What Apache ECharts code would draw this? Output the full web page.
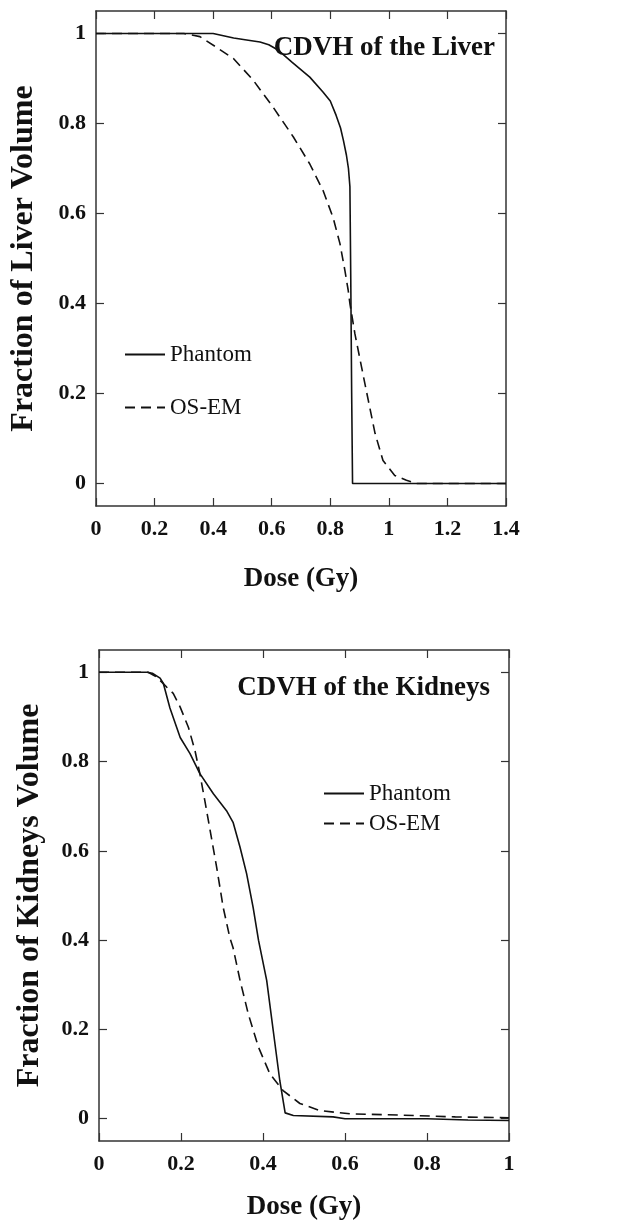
<!DOCTYPE html>
<html>
	<head>
		<meta charset="UTF-8">
		<title>CDVH</title>
		<script src="https://cdn.jsdelivr.net/npm/echarts@6/dist/echarts.min.js"></script>
	</head>
	<style>
		html, body { margin: 0; padding: 0; background: #fff; }
		#chart { width: 633px; height: 1226px; }
	</style>
	<body>
		<div id="chart"></div>
	<script>
	// liver panel, dose in Gy, fraction of volume
	var liverPhantomX = [0, 0.2, 0.4, 0.47, 0.52, 0.56, 0.59, 0.62, 0.67, 0.73, 0.775, 0.8, 0.82, 0.835, 0.845, 0.855, 0.862, 0.867, 0.87, 0.873, 0.876, 1.0, 1.2, 1.4];
	var liverPhantomY = [1, 1, 1, 0.99, 0.985, 0.981, 0.975, 0.964, 0.936, 0.903, 0.87, 0.85, 0.818, 0.79, 0.762, 0.73, 0.70, 0.66, 0.45, 0.2, 0, 0, 0, 0];
	var liverOsemX = [0, 0.2, 0.3, 0.355, 0.41, 0.47, 0.537, 0.605, 0.674, 0.73, 0.776, 0.81, 0.833, 0.85, 0.861, 0.867, 0.884, 0.907, 0.93, 0.953, 0.98, 1.02, 1.06, 1.095, 1.2, 1.4];
	var liverOsemY = [1, 1, 1, 0.993, 0.97, 0.944, 0.896, 0.836, 0.77, 0.71, 0.65, 0.59, 0.533, 0.473, 0.43, 0.4, 0.333, 0.258, 0.184, 0.111, 0.051, 0.018, 0.007, 0, 0, 0];

	// kidneys panel
	var kidPhantomX = [0, 0.1, 0.117, 0.13, 0.149, 0.157, 0.173, 0.198, 0.222, 0.246, 0.279, 0.311, 0.327, 0.344, 0.36, 0.376, 0.389, 0.409, 0.425, 0.441, 0.454, 0.474, 0.571, 0.6, 0.8, 0.9, 1.0];
	var kidPhantomY = [1, 1, 1, 0.998, 0.987, 0.975, 0.92, 0.854, 0.818, 0.773, 0.728, 0.69, 0.664, 0.608, 0.549, 0.473, 0.4, 0.31, 0.197, 0.085, 0.013, 0.007, 0.004, 0, 0, -0.003, -0.004];
	var kidOsemX = [0, 0.1, 0.12, 0.14, 0.165, 0.181, 0.198, 0.218, 0.234, 0.246, 0.258, 0.271, 0.287, 0.303, 0.319, 0.327, 0.344, 0.364, 0.389, 0.417, 0.449, 0.49, 0.539, 0.612, 0.734, 0.869, 1.0];
	var kidOsemY = [1, 1, 1, 0.99, 0.967, 0.953, 0.922, 0.877, 0.825, 0.773, 0.713, 0.646, 0.563, 0.473, 0.406, 0.383, 0.31, 0.235, 0.16, 0.1, 0.063, 0.034, 0.018, 0.011, 0.008, 0.004, 0.002];

	var yTicks = [0, 0.2, 0.4, 0.6, 0.8, 1];
	var seriesNames = ['Phantom', 'OS-EM'];
	var titles = ['CDVH of the Liver', 'CDVH of the Kidneys'];
	var xName = 'Dose (Gy)';
	var yNames = ['Fraction of Liver Volume', 'Fraction of Kidneys Volume'];

	var font = 'Liberation Serif';
	var ink = '#111';
	var frame = '#333';

	function pairs(xs, ys) {
		var out = [];
		for (var i = 0; i < xs.length; i++) {
			out.push([xs[i], ys[i]]);
		}
		return out;
	}

	function xAx(grid, xmax, pos, nameGap) {
		var main = pos === 'bottom';
		return {
			type: 'value', gridIndex: grid, position: pos,
			min: 0, max: xmax, interval: 0.2,
			name: main ? xName : '', nameLocation: 'middle', nameGap: nameGap,
			nameTextStyle: { fontFamily: font, fontWeight: 'bold', fontSize: 27, color: ink },
			axisLine: { show: true, onZero: false, lineStyle: { color: frame, width: 1.5 } },
			axisTick: { show: true, inside: true, length: 8, lineStyle: { color: frame, width: 1.2 } },
			axisLabel: { show: main, margin: 12, fontFamily: font, fontWeight: 'bold', fontSize: 22, color: ink },
			splitLine: { show: false }
		};
	}

	function yAx(grid, pos, nameIdx, nameGap, nameSize) {
		var main = pos === 'left';
		return {
			type: 'value', gridIndex: grid, position: pos,
			min: -0.05, max: 1.05,
			name: main ? yNames[nameIdx] : '', nameLocation: 'middle', nameGap: nameGap,
			nameTextStyle: { fontFamily: font, fontWeight: 'bold', fontSize: nameSize, color: ink },
			axisLine: { show: true, onZero: false, lineStyle: { color: frame, width: 1.5 } },
			axisTick: { show: true, inside: true, length: 8, customValues: yTicks, lineStyle: { color: frame, width: 1.2 } },
			axisLabel: { show: main, margin: 10, customValues: yTicks, fontFamily: font, fontWeight: 'bold', fontSize: 22, color: ink },
			splitLine: { show: false }
		};
	}

	function line(name, data, xi, yi, dashed) {
		return {
			name: name, type: 'line', xAxisIndex: xi, yAxisIndex: yi,
			data: data, symbol: 'none', showSymbol: false, smooth: false,
			lineStyle: { color: ink, width: 1.6, type: dashed ? [10, 6] : 'solid' },
			itemStyle: { color: ink },
			animation: false
		};
	}

	var chart = echarts.init(document.getElementById('chart'));

	var legendText = { fontFamily: font, fontSize: 23, color: ink };

	var option = {
		backgroundColor: '#fff',
		animation: false,
		title: [
			{ text: titles[0], right: 133, top: 30, textStyle: { fontFamily: font, fontWeight: 'bold', fontSize: 27, color: ink } },
			{ text: titles[1], right: 138, top: 670, textStyle: { fontFamily: font, fontWeight: 'bold', fontSize: 27, color: ink } }
		],
		legend: [
			{
				orient: 'vertical', left: 119, top: 338, itemWidth: 40, itemHeight: 14, itemGap: 30,
				data: seriesNames, selectedMode: false, textStyle: legendText,
				itemStyle: { opacity: 0 }
			},
			{
				orient: 'vertical', left: 318, top: 777, itemWidth: 40, itemHeight: 14, itemGap: 7,
				data: seriesNames, selectedMode: false, textStyle: legendText,
				itemStyle: { opacity: 0 }
			}
		],
		grid: [
			{ left: 96, right: 127, top: 11, height: 495, containLabel: false },
			{ left: 99, right: 124, top: 650, height: 491, containLabel: false }
		],
		xAxis: [
			xAx(0, 1.4, 'bottom', 60),
			xAx(0, 1.4, 'top', 0),
			xAx(1, 1.0, 'bottom', 53),
			xAx(1, 1.0, 'top', 0)
		],
		yAxis: [
			yAx(0, 'left', 0, 56, 32),
			yAx(0, 'right', 0, 0, 32),
			yAx(1, 'left', 1, 53, 32),
			yAx(1, 'right', 1, 0, 32)
		],
		series: [
			line(seriesNames[0], pairs(liverPhantomX, liverPhantomY), 0, 0, false),
			line(seriesNames[1], pairs(liverOsemX, liverOsemY), 0, 0, true),
			line(seriesNames[0], pairs(kidPhantomX, kidPhantomY), 2, 2, false),
			line(seriesNames[1], pairs(kidOsemX, kidOsemY), 2, 2, true)
		]
	};

	chart.setOption(option);
	</script>
	</body>
</html>
